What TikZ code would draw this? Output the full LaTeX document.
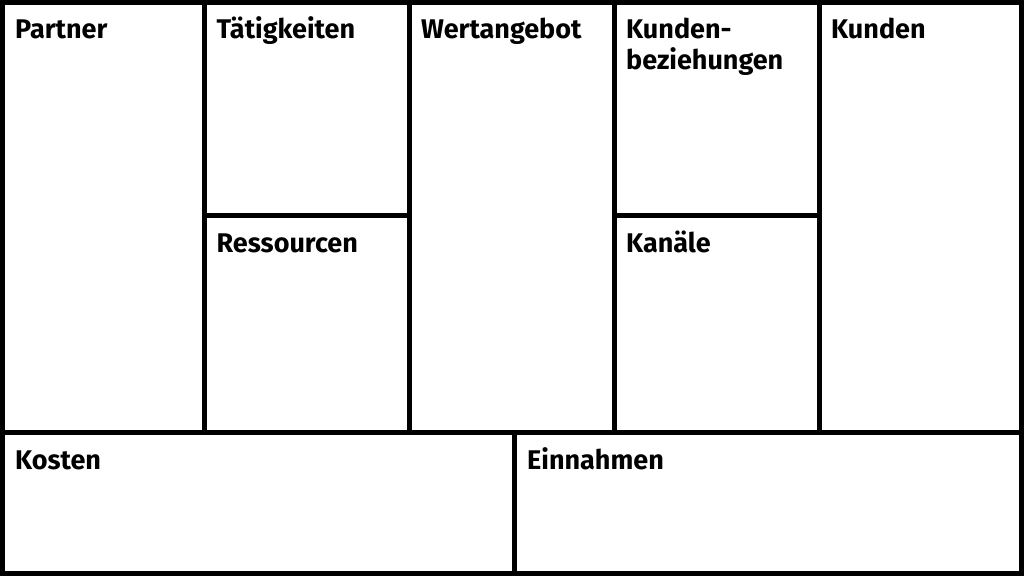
\documentclass[tikz,border=0pt]{standalone}
\usepackage{fontspec}
\setmainfont{Fira Sans}
\begin{document}
\begin{tikzpicture}[x=1pt,y=-1pt,
  grid/.style={line width=5pt, draw=black},
  lbl/.style={anchor=base west, inner sep=0pt, font=\bfseries\fontsize{27}{31}\selectfont, align=left, text=black}]
\useasboundingbox[fill=white] (0,0) rectangle (1024,576);
% frame
\draw[grid] (2.5,2.5) rectangle (1021.5,573.5);
\draw[grid] (2.5,432) -- (1021.5,432);
\draw[grid] (204.5,2.5) -- (204.5,432);
\draw[grid] (409.5,2.5) -- (409.5,432);
\draw[grid] (614.5,2.5) -- (614.5,432);
\draw[grid] (819.5,2.5) -- (819.5,432);
\draw[grid] (204.5,215.7) -- (409.5,215.7);
\draw[grid] (614.5,215.7) -- (819.5,215.7);
\draw[grid] (514.5,432) -- (514.5,573.5);
% labels
\node[lbl] (partner) at (15,38.5) {Partner};
\node[lbl] (taet) at (216.5,38.5) {Tätigkeiten};
\node[lbl] (wert) at (421,38.5) {Wertangebot};
\node[lbl] (bez) at (626,69) {Kunden-\\beziehungen};
\node[lbl] (kunden) at (831,38.5) {Kunden};
\node[lbl] (ress) at (216.5,252) {Ressourcen};
\node[lbl] (kan) at (626,252) {Kanäle};
\node[lbl] (kosten) at (15,469) {Kosten};
\node[lbl] (einn) at (527,469) {Einnahmen};
\end{tikzpicture}
\end{document}
